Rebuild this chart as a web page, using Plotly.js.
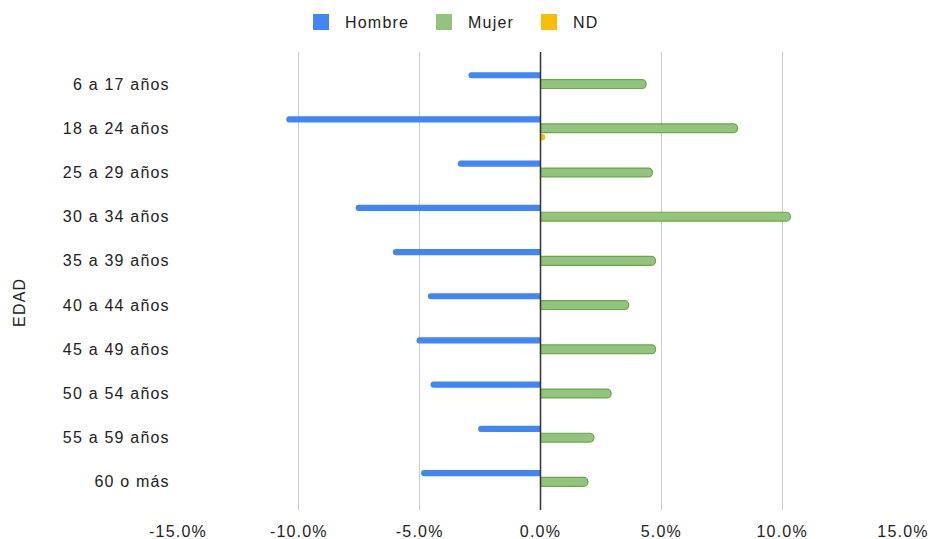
<!DOCTYPE html>
<html>
<head>
<meta charset="utf-8">
<script src="https://cdn.plot.ly/plotly-3.0.1.min.js"></script>
<style>
html,body{margin:0;padding:0;background:#fff;}
#chart{width:929px;height:539px;}
#chart text{letter-spacing:1.2px;}
</style>
</head>
<body>
<div id="chart"></div>
<script>
const categories = ["6 a 17 años","18 a 24 años","25 a 29 años","30 a 34 años","35 a 39 años","40 a 44 años","45 a 49 años","50 a 54 años","55 a 59 años","60 o más"];
const hombre = [-0.0298,-0.1052,-0.0342,-0.0765,-0.0611,-0.0466,-0.0513,-0.0455,-0.0258,-0.0494];
const mujer  = [0.0437,0.0815,0.0463,0.1034,0.0476,0.0365,0.0476,0.0292,0.0221,0.0196];
const nd     = [0,0.002,0,0,0,0,0,0,0,0];
const xTicks = [-0.15,-0.10,-0.05,0,0.05,0.10,0.15];
const xTickLabels = ["-15.0%","-10.0%","-5.0%","0.0%","5.0%","10.0%","15.0%"];
const seriesNames = ["Hombre","Mujer","ND"];
const seriesColors = ["#4285F4","#93C47D","#FBBC04"];
const yTitle = "EDAD";

const font = "Arial, 'Liberation Sans', sans-serif";
const traces = [
  {type:'bar', orientation:'h', name:'Hombre', y:categories, x:hombre,
   width:0.14, offset:-0.27, showlegend:false,
   marker:{color:seriesColors[0], cornerradius:3, line:{width:0}}},
  {type:'bar', orientation:'h', name:'Mujer', y:categories, x:mujer,
   width:0.2, offset:-0.1, showlegend:false,
   marker:{color:seriesColors[1], cornerradius:4, line:{color:'#6AA84F', width:1.2}}},
  {type:'bar', orientation:'h', name:'ND', y:categories, x:nd,
   width:0.14, offset:0.13, showlegend:false,
   marker:{color:seriesColors[2], cornerradius:3, line:{width:0}}}
];
// legend-only entries with large square swatches, one legend each
const legendIds = ['legend','legend2','legend3'];
seriesNames.forEach((n,i)=>{
  traces.push({type:'scatter', mode:'markers', name:n, x:[null], y:[null], legend:legendIds[i],
    marker:{symbol:'square', size:16, color:seriesColors[i]}, showlegend:true, hoverinfo:'skip'});
});
const legendLeft = [297, 420, 525];
function mkLegend(px){
  return {orientation:'h', xref:'container', x:px/929, xanchor:'left', yref:'container', y:0.959, yanchor:'middle',
    font:{family:font, size:16, color:'#222'}, itemwidth:38, bgcolor:'rgba(0,0,0,0)', borderwidth:0};
}

const layout = {
  width:929, height:539,
  margin:{l:178, r:26, t:52, b:29},
  paper_bgcolor:'#fff', plot_bgcolor:'#fff',
  barmode:'overlay',
  font:{family:font, size:16, color:'#222'},
  xaxis:{range:[-0.15,0.15], tickvals:xTicks, ticktext:xTickLabels,
    showgrid:true, gridcolor:'#cccccc', gridwidth:1, zeroline:false,
    ticks:'outside', ticklen:7, tickcolor:'rgba(0,0,0,0)', fixedrange:true,
    tickfont:{family:font, size:16, color:'#222'}, showline:false},
  yaxis:{type:'category', categoryorder:'array', categoryarray:categories,
    range:[9.636,-0.726], showgrid:false, zeroline:false, showline:false,
    ticks:'outside', ticklen:4, tickcolor:'rgba(0,0,0,0)',
    tickfont:{family:font, size:16, color:'#222'}},
  annotations:[{text:yTitle, xref:'paper', yref:'paper', x:(18.5-178)/725, y:(510-303)/458,
    xanchor:'center', yanchor:'middle', textangle:-90, showarrow:false,
    font:{family:font, size:16, color:'#222'}}],
  legend:mkLegend(legendLeft[0]),
  legend2:mkLegend(legendLeft[1]),
  legend3:mkLegend(legendLeft[2]),
  shapes:[{type:'line', xref:'x', yref:'paper', x0:0, x1:0, y0:0, y1:1,
    line:{color:'#333333', width:1.5}, layer:'above'}],
  showlegend:true
};
Plotly.newPlot('chart', traces, layout, {displayModeBar:false, staticPlot:true});
</script>
</body>
</html>
